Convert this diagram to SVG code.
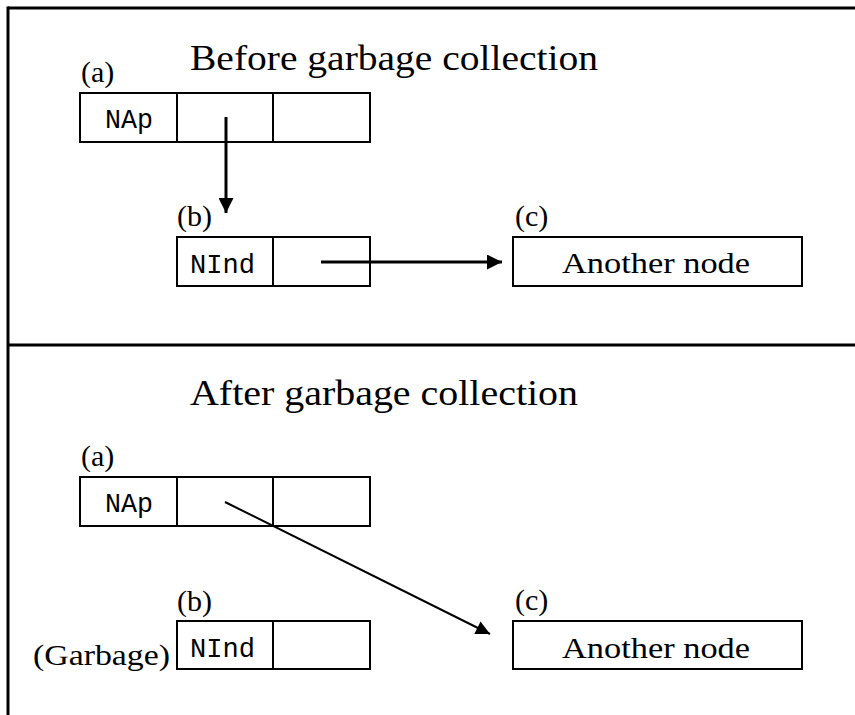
<svg xmlns="http://www.w3.org/2000/svg" width="855" height="715" viewBox="0 0 855 715">
<style>
.frame{stroke:#000;stroke-width:3;fill:none}
.box{stroke:#000;stroke-width:2;fill:#fff}
.div{stroke:#000;stroke-width:2}
.serif{font-family:"Liberation Serif","Times New Roman",serif;fill:#000}
.title{font-size:36px}
.lbl{font-size:30px}
.mono{font-family:"Liberation Mono","Courier New",monospace;font-size:28px;fill:#000}
.thick{stroke:#000;stroke-width:3;fill:none}
.thin{stroke:#000;stroke-width:2;fill:none}
</style>
<defs>
<marker id="ah" viewBox="0 0 10 10" refX="10" refY="5" markerWidth="5.5" markerHeight="5" markerUnits="strokeWidth" orient="auto">
<path d="M0,0 L10,5 L0,10 z" fill="#000"/>
</marker>
<marker id="ah2" viewBox="0 0 10 10" refX="10" refY="5" markerWidth="10" markerHeight="7" markerUnits="strokeWidth" orient="auto">
<path d="M0,0 L10,5 L0,10 z" fill="#000"/>
</marker>
</defs>
<g id="frame">
<line class="frame" x1="8" y1="8" x2="855" y2="8"/>
<line class="frame" x1="8" y1="6.5" x2="8" y2="715"/>
<line class="frame" x1="8" y1="345" x2="855" y2="345"/>
</g>
<text class="serif title" x="190" y="70" textLength="408" lengthAdjust="spacingAndGlyphs">Before garbage collection</text>
<text class="serif title" x="190" y="405" textLength="388" lengthAdjust="spacingAndGlyphs">After garbage collection</text>
<g id="before-a">
<text class="serif lbl" x="81" y="82">(a)</text>
<rect class="box" x="80" y="93" width="290" height="49"/>
<line class="div" x1="177" y1="93" x2="177" y2="142"/>
<line class="div" x1="273" y1="93" x2="273" y2="142"/>
<text class="mono" x="105" y="128" textLength="48" lengthAdjust="spacingAndGlyphs">NAp</text>
</g>
<g id="before-b">
<text class="serif lbl" x="177" y="226">(b)</text>
<rect class="box" x="177" y="237" width="193" height="49"/>
<line class="div" x1="273" y1="237" x2="273" y2="286"/>
<text class="mono" x="190" y="273" textLength="65" lengthAdjust="spacingAndGlyphs">NInd</text>
</g>
<g id="before-c">
<text class="serif lbl" x="515" y="226">(c)</text>
<rect class="box" x="513" y="237" width="289" height="49"/>
<text class="serif lbl" x="562" y="273" textLength="188" lengthAdjust="spacingAndGlyphs">Another node</text>
</g>
<g id="after-a">
<text class="serif lbl" x="81" y="466">(a)</text>
<rect class="box" x="80" y="477" width="290" height="49"/>
<line class="div" x1="177" y1="477" x2="177" y2="526"/>
<line class="div" x1="273" y1="477" x2="273" y2="526"/>
<text class="mono" x="105" y="512" textLength="48" lengthAdjust="spacingAndGlyphs">NAp</text>
</g>
<g id="after-b">
<text class="serif lbl" x="177" y="611">(b)</text>
<text class="serif lbl" x="33" y="665" textLength="137" lengthAdjust="spacingAndGlyphs">(Garbage)</text>
<rect class="box" x="177" y="621" width="193" height="48"/>
<line class="div" x1="273" y1="621" x2="273" y2="669"/>
<text class="mono" x="190" y="657" textLength="65" lengthAdjust="spacingAndGlyphs">NInd</text>
</g>
<g id="after-c">
<text class="serif lbl" x="515" y="610">(c)</text>
<rect class="box" x="513" y="621" width="289" height="48"/>
<text class="serif lbl" x="562" y="658" textLength="188" lengthAdjust="spacingAndGlyphs">Another node</text>
</g>
<g id="connectors">
<line class="thick" x1="226" y1="117" x2="226" y2="213" marker-end="url(#ah)"/>
<line class="thick" x1="321" y1="262" x2="502" y2="262" marker-end="url(#ah)"/>
<line class="thin" x1="225" y1="502" x2="490" y2="634" marker-end="url(#ah2)"/>
</g>
</svg>
